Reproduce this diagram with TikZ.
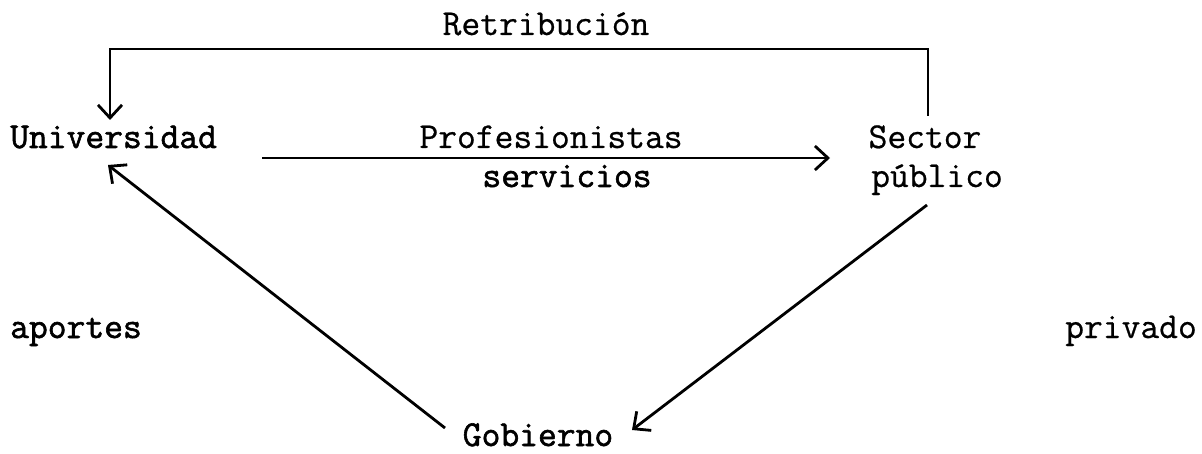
\documentclass[tikz,border=0pt]{standalone}
\usepackage{fontspec}
\newfontfamily\twr{Latin Modern Mono}[FakeBold=0.6]
\newfontfamily\twb{Latin Modern Mono}[FakeBold=1.6]
\usetikzlibrary{arrows.meta}
\begin{document}
\begin{tikzpicture}[x=1pt,y=-1pt,
  lbl/.style={inner sep=0pt,anchor=base,font=\twr\fontsize{36.5}{40}\selectfont},
  lblb/.style={lbl,font=\twb\fontsize{36.5}{40}\selectfont},
  conn/.style={line width=2.8pt},
  arr/.style={conn,-{Straight Barb[length=13pt,width=24pt,line width=2.8pt]}}]
\useasboundingbox (0,0) rectangle (1202,454);
\node[lbl] (ret) at (546,35) {Retribución};
\node[lblb,anchor=base west] (uni) at (10,148) {Universidad};
\node[lbl] (prof) at (551,148) {Profesionistas};
\node[lblb] (serv) at (567,187) {servicios};
\node[lbl] (sec) at (925,148) {Sector};
\node[lbl] (pub) at (937,187) {público};
\node[lblb,anchor=base west] (apo) at (10,338) {aportes};
\node[lbl,anchor=base east] (pri) at (1197,338) {privado};
\node[lblb] (gob) at (538,446) {Gobierno};
\coordinate (retR) at (928,116);
\coordinate (retL) at (110,120);
\coordinate (pfA) at (262,158);
\coordinate (pfB) at (830,158);
\coordinate (sgA) at (927,205);
\coordinate (sgB) at (632,430);
\coordinate (guA) at (445,428);
\coordinate (guB) at (108,165);
\draw[arr] (retR) -- (retR |- 0,49) -- (retL |- 0,49) -- (retL);
\draw[arr] (pfA) -- (pfB);
\draw[arr] (sgA) -- (sgB);
\draw[arr] (guA) -- (guB);
\end{tikzpicture}
\end{document}
